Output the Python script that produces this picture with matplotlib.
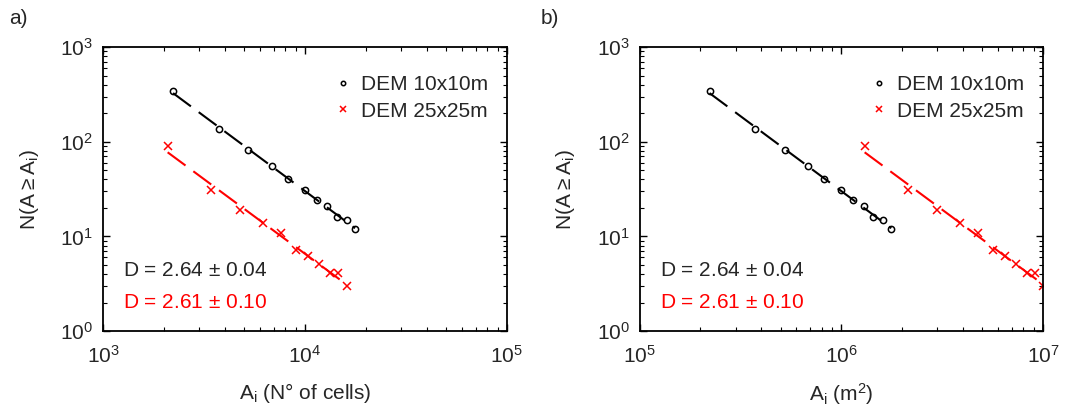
import numpy as np
import matplotlib.pyplot as plt
from matplotlib.ticker import LogLocator, NullFormatter

plt.rcParams['font.family'] = ['Liberation Sans', 'DejaVu Sans']
plt.rcParams['mathtext.default'] = 'regular'
plt.rcParams['lines.scale_dashes'] = False

# area in number of cells, N(A >= Ai)
cells_10 = [2223, 3750, 5240, 6840, 8260, 10000, 11500, 12900, 14450, 16100, 17700]
n_10 = [343, 136, 82, 55, 40, 31, 24, 21, 16, 15, 12]
cells_25 = [2090, 3410, 4770, 6220, 7600, 9020, 10370, 11720, 13300, 14600, 16060]
n_25 = [90, 31, 19, 14, 11, 7.2, 6.2, 5.1, 4.1, 4.1, 3.0]
cell_area = {'10': 100.0, '25': 625.0}  # m2 per cell
labels = ['DEM 10x10m', 'DEM 25x25m']
d_text = [r'D = 2.64 $\pm$ 0.04', r'D = 2.61 $\pm$ 0.10']

txt = '#262626'
fs = 15
fig = plt.figure(figsize=(10.65, 4.17), dpi=100)
ax1 = fig.add_axes([0.0967, 0.206, 0.3793, 0.681])
ax2 = fig.add_axes([0.6005, 0.206, 0.3788, 0.681])


def panel(ax, x10, x25, xlim, xlabel):
    for x, y, col, mk, ms, lab in [(x10, n_10, 'k', 'o', 4.5, labels[0]),
                                   (x25, n_25, 'red', 'x', 6, labels[1])]:
        x = np.array(x)
        y = np.array(y)
        p = np.polyfit(np.log10(x), np.log10(y), 1)
        xf = np.array([x.min(), x.max()])
        ax.plot(xf, 10 ** np.polyval(p, np.log10(xf)), color=col, lw=1.5,
                dashes=(16, 7))
        ax.plot(x, y, ls='none', marker=mk, ms=ms, mfc='none', mec=col,
                mew=1.1, color=col, label=lab)
    ax.set_xscale('log')
    ax.set_yscale('log')
    ax.set_xlim(xlim)
    ax.set_ylim(1, 1000)
    ax.tick_params(which='both', direction='in', top=True, right=True,
                   labelsize=fs, colors='k', labelcolor=txt)
    ax.tick_params(which='major', length=5, width=1, pad=7)
    ax.tick_params(which='minor', length=3, width=0.8)
    ax.xaxis.set_major_locator(LogLocator(base=10, numticks=10))
    ax.xaxis.set_minor_locator(LogLocator(base=10, subs=np.arange(2, 10), numticks=10))
    ax.yaxis.set_minor_locator(LogLocator(base=10, subs=np.arange(2, 10), numticks=10))
    ax.xaxis.set_minor_formatter(NullFormatter())
    ax.yaxis.set_minor_formatter(NullFormatter())
    ax.tick_params(axis='x', which='major', pad=10)
    for s in ax.spines.values():
        s.set_linewidth(1.3)
    ax.set_xlabel(xlabel, fontsize=fs, color=txt, labelpad=10)
    ax.set_ylabel(r'N(A$\geq$A$_{i}$)', fontsize=fs, color=txt, labelpad=14)
    leg = ax.legend(loc='upper right', bbox_to_anchor=(0.975, 0.93),
                    frameon=False, fontsize=fs, handletextpad=0.3,
                    borderaxespad=0.0, labelspacing=0.35,
                    markerscale=0.7, handlelength=1.2)
    for t in leg.get_texts():
        t.set_color(txt)
    ax.text(0.05, 0.215, d_text[0], transform=ax.transAxes, fontsize=fs,
            color=txt, va='center')
    ax.text(0.05, 0.10, d_text[1], transform=ax.transAxes, fontsize=fs,
            color='red', va='center')


panel(ax1, cells_10, cells_25, (1e3, 1e5), r'A$_{i}$ (N° of cells)')
panel(ax2, np.array(cells_10) * cell_area['10'], np.array(cells_25) * cell_area['25'],
      (1e5, 1e7), r'A$_{i}$ (m$^{2}$)')

fig.text(0.009, 0.955, 'a)', fontsize=fs, color=txt, va='center')
fig.text(0.508, 0.955, 'b)', fontsize=fs, color=txt, va='center')

fig.savefig('out.png', dpi=100)
